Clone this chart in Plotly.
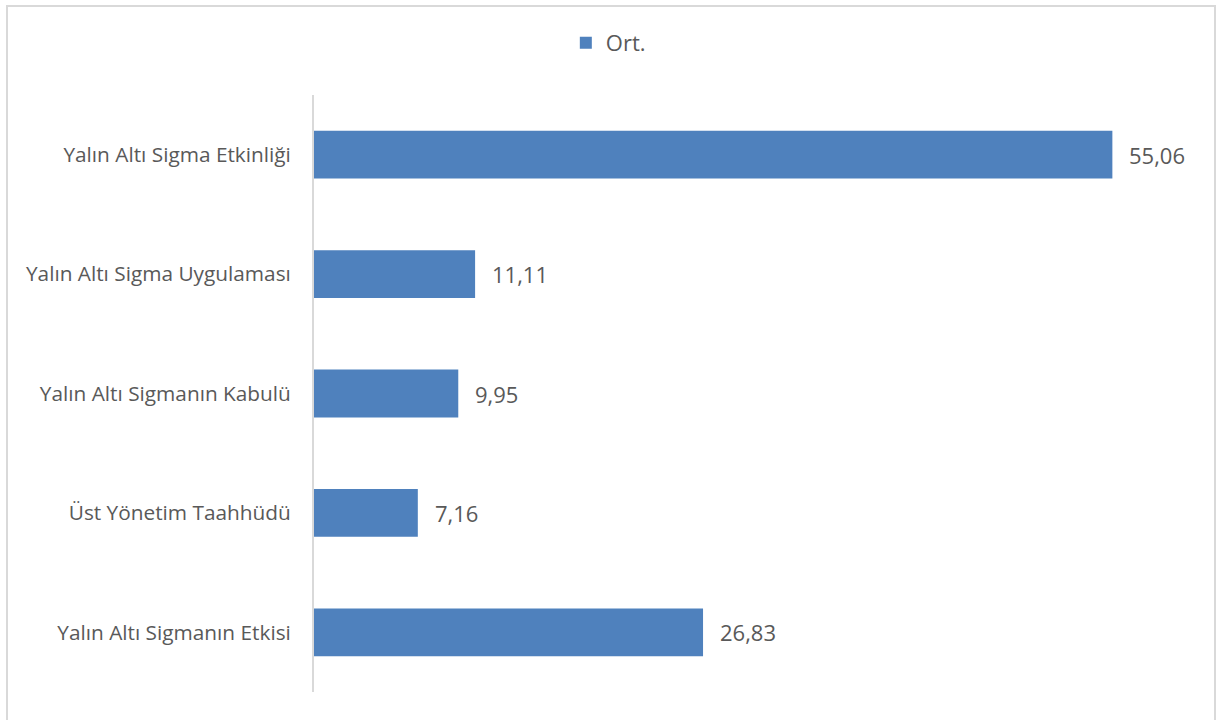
import plotly.graph_objects as go

# Factor names (top to bottom) and their averages
categories = [
    "Yalın Altı Sigma Etkinliği",
    "Yalın Altı Sigma Uygulaması",
    "Yalın Altı Sigmanın Kabulü",
    "Üst Yönetim Taahhüdü",
    "Yalın Altı Sigmanın Etkisi",
]
averages = [55.06, 11.11, 9.95, 7.16, 26.83]
series_name = "Ort."

W, H = 1224, 720
FONT = "Open Sans"
TICK_SIZE = 20.8
LABEL_SIZE = 22
TEXT_COLOR = "#595959"
BAR_COLOR = "#4F81BD"

# Plot area in pixels
px_left, px_right = 314, 1184
px_top, px_bottom = 95, 692

labels = [f"{v:.2f}".replace(".", ",") for v in averages]

fig = go.Figure()
fig.add_trace(go.Bar(
    y=categories,
    x=averages,
    orientation="h",
    name=series_name,
    marker=dict(color=BAR_COLOR, line=dict(width=0)),
    width=0.4,
    showlegend=True,
))

# Value labels placed just right of each bar end
for cat, val, lab in zip(categories, averages, labels):
    fig.add_annotation(
        x=val, y=cat, xref="x", yref="y",
        text=lab, showarrow=False,
        xanchor="left", xshift=15,
        font=dict(family=FONT, size=LABEL_SIZE, color=TEXT_COLOR),
    )

# Light grey chart frame
fig.add_shape(
    type="rect", xref="paper", yref="paper",
    x0=7 / W, x1=1215 / W, y0=-0.01, y1=1 - 6 / H,
    line=dict(color="#D9D9D9", width=2),
    fillcolor="rgba(0,0,0,0)", layer="below",
)

fig.update_layout(
    width=W, height=H,
    margin=dict(l=0, r=0, t=0, b=0),
    paper_bgcolor="white",
    plot_bgcolor="white",
    font=dict(family=FONT, size=TICK_SIZE, color=TEXT_COLOR),
    bargap=0.6,
    legend=dict(
        orientation="h",
        x=0.497, xanchor="center",
        y=1 - 43 / H, yanchor="middle",
        font=dict(family=FONT, size=LABEL_SIZE, color=TEXT_COLOR),
        itemwidth=30,
    ),
    xaxis=dict(
        domain=[px_left / W, px_right / W],
        range=[0, 60],
        showgrid=False,
        zeroline=False,
        showticklabels=False,
        showline=False,
        fixedrange=True,
    ),
    yaxis=dict(
        domain=[1 - px_bottom / H, 1 - px_top / H],
        autorange="reversed",
        showgrid=False,
        zeroline=False,
        showline=True,
        linecolor="#D9D9D9",
        linewidth=2,
        ticks="",
        ticklabelstandoff=17,
        tickfont=dict(family=FONT, size=TICK_SIZE, color=TEXT_COLOR),
        automargin=False,
    ),
)

fig.write_html("out.html")
